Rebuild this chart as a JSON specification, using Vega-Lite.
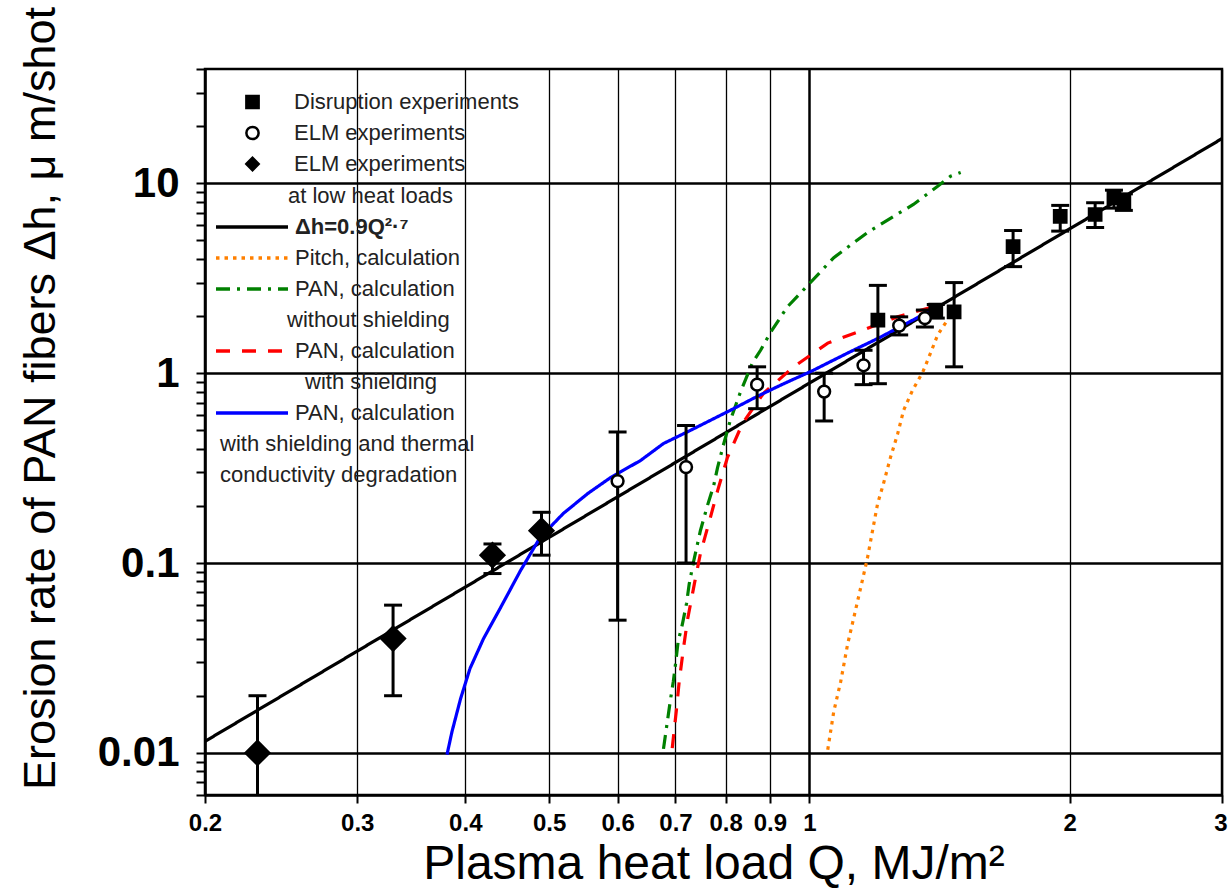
{
  "$schema": "https://vega.github.io/schema/vega-lite/v6.json",
  "width": 1017,
  "height": 726,
  "autosize": {"type": "none"},
  "padding": {"left": 205, "top": 69, "right": 6, "bottom": 100},
  "background": "white",
  "config": {"view": {"stroke": "black", "strokeWidth": 2.5}, "font": "Liberation Sans"},
  "datasets": {
    "curves": [
      {"key": "fit", "Q": 0.2, "h": 0.0115},
      {"key": "fit", "Q": 3, "h": 17.2},
      {"key": "pitch", "Q": 1.05, "h": 0.0104},
      {"key": "pitch", "Q": 1.067, "h": 0.0165},
      {"key": "pitch", "Q": 1.087, "h": 0.0238},
      {"key": "pitch", "Q": 1.107, "h": 0.0373},
      {"key": "pitch", "Q": 1.125, "h": 0.0512},
      {"key": "pitch", "Q": 1.146, "h": 0.0738},
      {"key": "pitch", "Q": 1.167, "h": 0.106},
      {"key": "pitch", "Q": 1.183, "h": 0.148},
      {"key": "pitch", "Q": 1.199, "h": 0.205},
      {"key": "pitch", "Q": 1.218, "h": 0.262},
      {"key": "pitch", "Q": 1.241, "h": 0.36},
      {"key": "pitch", "Q": 1.265, "h": 0.48},
      {"key": "pitch", "Q": 1.285, "h": 0.637},
      {"key": "pitch", "Q": 1.316, "h": 0.813},
      {"key": "pitch", "Q": 1.352, "h": 1.01},
      {"key": "pitch", "Q": 1.381, "h": 1.28},
      {"key": "pitch", "Q": 1.407, "h": 1.59},
      {"key": "pitch", "Q": 1.437, "h": 1.84},
      {"key": "pitch", "Q": 1.476, "h": 2.25},
      {"key": "pan1", "Q": 0.678, "h": 0.0105},
      {"key": "pan1", "Q": 0.685, "h": 0.0146},
      {"key": "pan1", "Q": 0.691, "h": 0.0193},
      {"key": "pan1", "Q": 0.696, "h": 0.0238},
      {"key": "pan1", "Q": 0.7, "h": 0.0292},
      {"key": "pan1", "Q": 0.705, "h": 0.0387},
      {"key": "pan1", "Q": 0.713, "h": 0.0476},
      {"key": "pan1", "Q": 0.721, "h": 0.0614},
      {"key": "pan1", "Q": 0.726, "h": 0.0774},
      {"key": "pan1", "Q": 0.734, "h": 0.1},
      {"key": "pan1", "Q": 0.748, "h": 0.148},
      {"key": "pan1", "Q": 0.762, "h": 0.2},
      {"key": "pan1", "Q": 0.775, "h": 0.256},
      {"key": "pan1", "Q": 0.783, "h": 0.318},
      {"key": "pan1", "Q": 0.795, "h": 0.416},
      {"key": "pan1", "Q": 0.81, "h": 0.564},
      {"key": "pan1", "Q": 0.832, "h": 0.793},
      {"key": "pan1", "Q": 0.859, "h": 1.13},
      {"key": "pan1", "Q": 0.878, "h": 1.32},
      {"key": "pan1", "Q": 0.901, "h": 1.63},
      {"key": "pan1", "Q": 0.943, "h": 2.235},
      {"key": "pan1", "Q": 0.997, "h": 2.92},
      {"key": "pan1", "Q": 1.067, "h": 4.06},
      {"key": "pan1", "Q": 1.167, "h": 5.5},
      {"key": "pan1", "Q": 1.251, "h": 6.69},
      {"key": "pan1", "Q": 1.319, "h": 7.74},
      {"key": "pan1", "Q": 1.407, "h": 9.64},
      {"key": "pan1", "Q": 1.456, "h": 10.9},
      {"key": "pan1", "Q": 1.496, "h": 11.4},
      {"key": "pan2", "Q": 0.694, "h": 0.0106},
      {"key": "pan2", "Q": 0.702, "h": 0.0171},
      {"key": "pan2", "Q": 0.707, "h": 0.0238},
      {"key": "pan2", "Q": 0.715, "h": 0.0355},
      {"key": "pan2", "Q": 0.723, "h": 0.0506},
      {"key": "pan2", "Q": 0.736, "h": 0.0774},
      {"key": "pan2", "Q": 0.748, "h": 0.112},
      {"key": "pan2", "Q": 0.768, "h": 0.173},
      {"key": "pan2", "Q": 0.783, "h": 0.24},
      {"key": "pan2", "Q": 0.804, "h": 0.36},
      {"key": "pan2", "Q": 0.837, "h": 0.544},
      {"key": "pan2", "Q": 0.885, "h": 0.784},
      {"key": "pan2", "Q": 0.958, "h": 1.076},
      {"key": "pan2", "Q": 1.05, "h": 1.44},
      {"key": "pan2", "Q": 1.155, "h": 1.69},
      {"key": "pan2", "Q": 1.265, "h": 1.98},
      {"key": "pan2", "Q": 1.4, "h": 2.26},
      {"key": "pan3", "Q": 0.381, "h": 0.0098},
      {"key": "pan3", "Q": 0.386, "h": 0.0129},
      {"key": "pan3", "Q": 0.395, "h": 0.0193},
      {"key": "pan3", "Q": 0.405, "h": 0.0278},
      {"key": "pan3", "Q": 0.42, "h": 0.0401},
      {"key": "pan3", "Q": 0.439, "h": 0.0578},
      {"key": "pan3", "Q": 0.463, "h": 0.0907},
      {"key": "pan3", "Q": 0.488, "h": 0.136},
      {"key": "pan3", "Q": 0.519, "h": 0.182},
      {"key": "pan3", "Q": 0.554, "h": 0.232},
      {"key": "pan3", "Q": 0.589, "h": 0.282},
      {"key": "pan3", "Q": 0.638, "h": 0.347},
      {"key": "pan3", "Q": 0.678, "h": 0.426},
      {"key": "pan3", "Q": 0.728, "h": 0.499},
      {"key": "pan3", "Q": 0.81, "h": 0.637},
      {"key": "pan3", "Q": 0.871, "h": 0.756},
      {"key": "pan3", "Q": 0.926, "h": 0.864},
      {"key": "pan3", "Q": 1.011, "h": 1.037},
      {"key": "pan3", "Q": 1.107, "h": 1.276},
      {"key": "pan3", "Q": 1.209, "h": 1.55},
      {"key": "pan3", "Q": 1.319, "h": 1.91},
      {"key": "pan3", "Q": 1.4, "h": 2.21}
    ],
    "pts": [
      {"series": "disr", "Q": 1.2, "h": 1.9, "lo": 0.88, "hi": 2.9},
      {"series": "disr", "Q": 1.4, "h": 2.15, "lo": 1.95, "hi": 2.3},
      {"series": "disr", "Q": 1.47, "h": 2.1, "lo": 1.08, "hi": 3.0},
      {"series": "disr", "Q": 1.72, "h": 4.64, "lo": 3.64, "hi": 5.64},
      {"series": "disr", "Q": 1.95, "h": 6.7, "lo": 5.6, "hi": 7.65},
      {"series": "disr", "Q": 2.14, "h": 6.85, "lo": 5.85, "hi": 7.9},
      {"series": "disr", "Q": 2.25, "h": 8.4, "lo": 7.4, "hi": 9.2},
      {"series": "disr", "Q": 2.31, "h": 8.0, "lo": 7.2, "hi": 8.8},
      {"series": "elm", "Q": 0.6, "h": 0.27, "lo": 0.05, "hi": 0.49},
      {"series": "elm", "Q": 0.72, "h": 0.32, "lo": 0.1, "hi": 0.53},
      {"series": "elm", "Q": 0.87, "h": 0.87, "lo": 0.65, "hi": 1.08},
      {"series": "elm", "Q": 1.04, "h": 0.8, "lo": 0.56, "hi": 1.0},
      {"series": "elm", "Q": 1.155, "h": 1.1, "lo": 0.87, "hi": 1.32},
      {"series": "elm", "Q": 1.27, "h": 1.78, "lo": 1.59, "hi": 1.98},
      {"series": "elm", "Q": 1.36, "h": 1.95, "lo": 1.75, "hi": 2.15},
      {"series": "elm_low", "Q": 0.23, "h": 0.01, "lo": 0.005, "hi": 0.02},
      {"series": "elm_low", "Q": 0.33, "h": 0.04, "lo": 0.02, "hi": 0.06},
      {"series": "elm_low", "Q": 0.43, "h": 0.11, "lo": 0.088, "hi": 0.126},
      {"series": "elm_low", "Q": 0.49, "h": 0.148, "lo": 0.11, "hi": 0.185}
    ]
  },
  "layer": [
    {
      "data": {"name": "curves"},
      "mark": {"type": "line", "strokeWidth": 3.2, "clip": true},
      "encoding": {
        "x": {
          "field": "Q", "type": "quantitative",
          "scale": {"type": "log", "domain": [0.2, 3], "nice": false},
          "axis": {
            "orient": "bottom",
            "values": [0.2, 0.3, 0.4, 0.5, 0.6, 0.7, 0.8, 0.9, 1, 2, 3],
            "format": "~g",
            "title": "Plasma heat load Q, MJ/m²",
            "titleFont": "Liberation Sans", "titleFontSize": 48, "titleFontWeight": "normal", "titleColor": "black", "titlePadding": 5,
            "labelFont": "Liberation Sans", "labelFontSize": 24, "labelFontWeight": "bold", "labelColor": "black",
            "labelPadding": 8, "labelFlush": false, "labelOverlap": false,
            "labelAlign": {"condition": {"test": "datum.value === 3", "value": "right"}, "value": "center"},
            "labelOffset": {"condition": {"test": "datum.value === 3", "value": 5}, "value": 0},
            "tickSize": 8, "tickWidth": 2, "tickColor": "black",
            "domainColor": "black", "domainWidth": 2.5,
            "grid": true, "gridColor": "black", "gridOpacity": 1,
            "gridWidth": {"condition": {"test": "datum.value === 1", "value": 2.5}, "value": 1.3}
          }
        },
        "y": {
          "field": "h", "type": "quantitative",
          "scale": {"type": "log", "domain": [0.006, 40], "nice": false},
          "axis": {
            "orient": "left",
            "values": [0.006, 0.007, 0.008, 0.009, 0.01, 0.02, 0.03, 0.04, 0.05, 0.06, 0.07, 0.08, 0.09, 0.1, 0.2, 0.3, 0.4, 0.5, 0.6, 0.7, 0.8, 0.9, 1, 2, 3, 4, 5, 6, 7, 8, 9, 10, 20, 30, 40],
            "labelExpr": "indexof([0.01, 0.1, 1, 10], datum.value) >= 0 ? format(datum.value, '~g') : ''",
            "title": "Erosion rate of PAN fibers Δh, μ m/shot",
            "titleFont": "Liberation Sans", "titleFontSize": 45, "titleFontWeight": "normal", "titleColor": "black",
            "titleAngle": -90, "titleX": -165, "titleY": 329, "titleAlign": "center", "titleBaseline": "middle",
            "labelFont": "Liberation Sans", "labelFontSize": 42, "labelFontWeight": "bold", "labelColor": "black",
            "labelPadding": 17, "labelOverlap": false, "labelFlush": false,
            "tickSize": 9, "tickWidth": 2, "tickColor": "black",
            "domainColor": "black", "domainWidth": 2.5,
            "grid": true, "gridColor": "black", "gridWidth": 2.5,
            "gridOpacity": {"condition": {"test": "indexof([0.01, 0.1, 1, 10], datum.value) >= 0", "value": 1}, "value": 0}
          }
        },
        "stroke": {
          "field": "key", "type": "nominal",
          "scale": {
            "domain": ["t1", "fit", "pitch", "pan1", "t2", "pan2", "t3", "pan3", "t4", "t5"],
            "range": ["transparent", "#000000", "#ff8000", "#008000", "transparent", "#ff0000", "transparent", "#0000ff", "transparent", "transparent"]
          },
          "legend": {
            "orient": "none", "legendX": 36, "legendY": 116, "title": null, "padding": 0,
            "symbolType": "M-6,0H6", "symbolSize": 144, "symbolStrokeWidth": 3.5,
            "labelOffset": 32, "rowPadding": 9, "labelFont": "Liberation Sans", "labelFontSize": 22, "labelColor": "#222222", "labelLimit": 1000,
            "labelExpr": "['at low heat loads', 'Δh=0.9Q²·⁷', 'Pitch, calculation', 'PAN, calculation', 'without shielding', 'PAN, calculation', 'with shielding', 'PAN, calculation', 'with shielding and thermal', 'conductivity degradation'][indexof(['t1', 'fit', 'pitch', 'pan1', 't2', 'pan2', 't3', 'pan3', 't4', 't5'], datum.value)]",
            "encode": {
              "symbols": {
                "update": {
                  "shape": {"value": "M-6,0H6"},
                  "size": {"value": 144},
                  "strokeWidth": {"value": 3.5},
                  "fill": {"value": "transparent"},
                  "stroke": {"signal": "['transparent', '#000000', '#ff8000', '#008000', 'transparent', '#ff0000', 'transparent', '#0000ff', 'transparent', 'transparent'][indexof(['t1', 'fit', 'pitch', 'pan1', 't2', 'pan2', 't3', 'pan3', 't4', 't5'], datum.value)]"},
                  "strokeDash": {"signal": "[[1, 0], [1, 0], [3.5, 5], [14, 7, 3, 7], [1, 0], [14, 12], [1, 0], [1, 0], [1, 0], [1, 0]][indexof(['t1', 'fit', 'pitch', 'pan1', 't2', 'pan2', 't3', 'pan3', 't4', 't5'], datum.value)]"},
                  "opacity": {"signal": "indexof(['t1', 't2', 't3', 't4', 't5'], datum.value) >= 0 ? 0 : 1"}
                }
              },
              "labels": {
                "update": {
                  "fontWeight": {"signal": "datum.value === 'fit' ? 'bold' : 'normal'"},
                  "dx": {"signal": "datum.value === 't1' ? -7 : datum.value === 't2' ? -8 : datum.value === 't3' ? 10 : (datum.value === 't4' || datum.value === 't5') ? -75 : 0"}
                }
              }
            }
          }
        },
        "strokeDash": {
          "field": "key", "type": "nominal",
          "scale": {
            "domain": ["t1", "fit", "pitch", "pan1", "t2", "pan2", "t3", "pan3", "t4", "t5"],
            "range": [[1, 0], [1, 0], [3.5, 5], [14, 7, 3, 7], [1, 0], [14, 12], [1, 0], [1, 0], [1, 0], [1, 0]]
          },
          "legend": {
            "orient": "none", "legendX": 36, "legendY": 116, "title": null, "padding": 0,
            "symbolType": "M-6,0H6", "symbolSize": 144, "symbolStrokeWidth": 3.5,
            "labelOffset": 32, "rowPadding": 9, "labelFont": "Liberation Sans", "labelFontSize": 22, "labelColor": "#222222", "labelLimit": 1000,
            "labelExpr": "['at low heat loads', 'Δh=0.9Q²·⁷', 'Pitch, calculation', 'PAN, calculation', 'without shielding', 'PAN, calculation', 'with shielding', 'PAN, calculation', 'with shielding and thermal', 'conductivity degradation'][indexof(['t1', 'fit', 'pitch', 'pan1', 't2', 'pan2', 't3', 'pan3', 't4', 't5'], datum.value)]",
            "encode": {
              "symbols": {
                "update": {
                  "shape": {"value": "M-6,0H6"},
                  "size": {"value": 144},
                  "strokeWidth": {"value": 3.5},
                  "fill": {"value": "transparent"},
                  "stroke": {"signal": "['transparent', '#000000', '#ff8000', '#008000', 'transparent', '#ff0000', 'transparent', '#0000ff', 'transparent', 'transparent'][indexof(['t1', 'fit', 'pitch', 'pan1', 't2', 'pan2', 't3', 'pan3', 't4', 't5'], datum.value)]"},
                  "strokeDash": {"signal": "[[1, 0], [1, 0], [3.5, 5], [14, 7, 3, 7], [1, 0], [14, 12], [1, 0], [1, 0], [1, 0], [1, 0]][indexof(['t1', 'fit', 'pitch', 'pan1', 't2', 'pan2', 't3', 'pan3', 't4', 't5'], datum.value)]"},
                  "opacity": {"signal": "indexof(['t1', 't2', 't3', 't4', 't5'], datum.value) >= 0 ? 0 : 1"}
                }
              },
              "labels": {
                "update": {
                  "fontWeight": {"signal": "datum.value === 'fit' ? 'bold' : 'normal'"},
                  "dx": {"signal": "datum.value === 't1' ? -7 : datum.value === 't2' ? -8 : datum.value === 't3' ? 10 : (datum.value === 't4' || datum.value === 't5') ? -75 : 0"}
                }
              }
            }
          }
        }
      }
    },
    {
      "data": {"name": "pts"},
      "mark": {"type": "rule", "strokeWidth": 3, "color": "black", "clip": true},
      "encoding": {
        "x": {"field": "Q", "type": "quantitative"},
        "y": {"field": "lo", "type": "quantitative"},
        "y2": {"field": "hi"}
      }
    },
    {
      "data": {"name": "pts"},
      "mark": {"type": "tick", "orient": "horizontal", "size": 18, "thickness": 3, "color": "black", "opacity": 1, "clip": true},
      "encoding": {
        "x": {"field": "Q", "type": "quantitative"},
        "y": {"field": "lo", "type": "quantitative"}
      }
    },
    {
      "data": {"name": "pts"},
      "mark": {"type": "tick", "orient": "horizontal", "size": 18, "thickness": 3, "color": "black", "opacity": 1, "clip": true},
      "encoding": {
        "x": {"field": "Q", "type": "quantitative"},
        "y": {"field": "hi", "type": "quantitative"}
      }
    },
    {
      "data": {"name": "pts"},
      "mark": {"type": "point", "strokeWidth": 2.5, "opacity": 1, "stroke": "black"},
      "encoding": {
        "x": {"field": "Q", "type": "quantitative"},
        "y": {"field": "h", "type": "quantitative"},
        "size": {"field": "series", "type": "nominal", "scale": {"type": "ordinal", "domain": ["elm_low", "disr", "elm"], "range": [560, 150, 140]}, "legend": null},
        "shape": {
          "field": "series", "type": "nominal",
          "scale": {"domain": ["disr", "elm", "elm_low"], "range": ["square", "circle", "diamond"]},
          "legend": {
            "orient": "none", "legendX": 36.5, "legendY": 22, "title": null, "padding": 0,
            "symbolSize": 150, "symbolStrokeWidth": 2.5, "labelOffset": 30.5, "rowPadding": 7,
            "labelFont": "Liberation Sans", "labelFontSize": 22, "labelColor": "#222222", "labelLimit": 1000,
            "labelExpr": "['Disruption experiments', 'ELM experiments', 'ELM experiments'][indexof(['disr', 'elm', 'elm_low'], datum.value)]",
            "encode": {"symbols": {"update": {
              "size": {"signal": "datum.value === 'elm_low' ? 500 : 150"},
              "shape": {"signal": "datum.value === 'disr' ? 'square' : datum.value === 'elm' ? 'circle' : 'diamond'"},
              "fill": {"signal": "datum.value === 'elm' ? '#ffffff' : '#000000'"},
              "stroke": {"value": "#000000"},
              "strokeWidth": {"value": 2.5},
              "opacity": {"value": 1}
            }}}
          }
        },
        "fill": {
          "field": "series", "type": "nominal",
          "scale": {"domain": ["disr", "elm", "elm_low"], "range": ["#000000", "#ffffff", "#000000"]},
          "legend": {
            "orient": "none", "legendX": 36.5, "legendY": 22, "title": null, "padding": 0,
            "symbolSize": 150, "symbolStrokeWidth": 2.5, "labelOffset": 30.5, "rowPadding": 7,
            "labelFont": "Liberation Sans", "labelFontSize": 22, "labelColor": "#222222", "labelLimit": 1000,
            "labelExpr": "['Disruption experiments', 'ELM experiments', 'ELM experiments'][indexof(['disr', 'elm', 'elm_low'], datum.value)]",
            "encode": {"symbols": {"update": {
              "size": {"signal": "datum.value === 'elm_low' ? 500 : 150"},
              "shape": {"signal": "datum.value === 'disr' ? 'square' : datum.value === 'elm' ? 'circle' : 'diamond'"},
              "fill": {"signal": "datum.value === 'elm' ? '#ffffff' : '#000000'"},
              "stroke": {"value": "#000000"},
              "strokeWidth": {"value": 2.5},
              "opacity": {"value": 1}
            }}}
          }
        }
      }
    }
  ]
}
